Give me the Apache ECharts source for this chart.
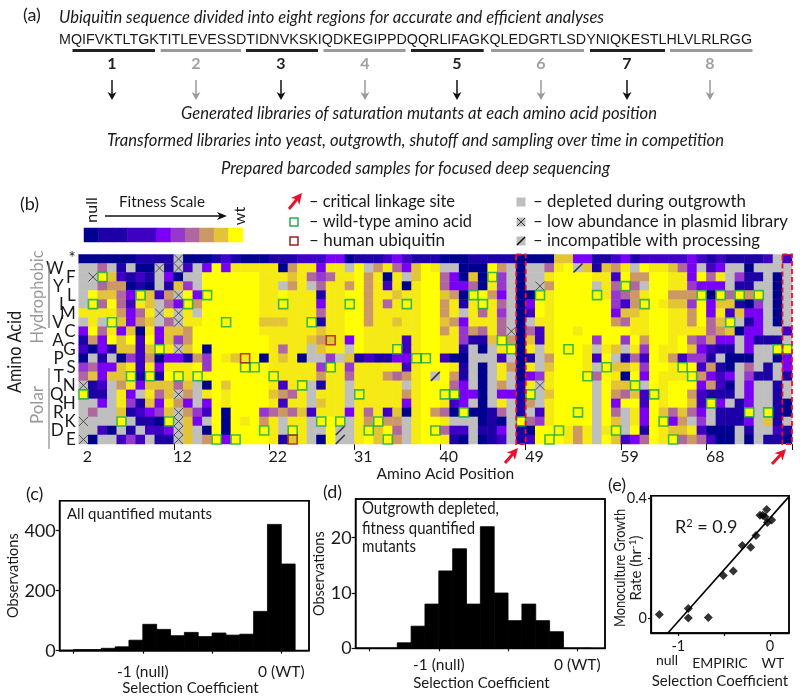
<!DOCTYPE html>
<html><head><meta charset="utf-8">
<style>html,body{margin:0;padding:0;background:#fff}#c{width:800px;height:697px}</style>
<script src="https://cdn.jsdelivr.net/npm/echarts@6/dist/echarts.min.js"></script>
</head><body><div id="c"></div>
<script>
// ---------- data ----------
const aminoAcids = ['*','W','F','Y','L','I','M','V','C','A','G','P','S','T','N','Q','H','R','K','D','E'];
const sequence = 'MQIFVKTLTGKTITLEVESSDTIDNVKSKIQDKEGIPPDQQRLIFAGKQLEDGRTLSDYNIQKESTLHLVLRLRGG';
const positionTicks = ['12','22','31','40','49','59','68'];
const positionLabels = ['2','12','22','31','40','49','59','68'];
const levelColors = ['#00008f','#1d00a6','#4000c4','#7a00f5','#9638cf','#b0669f','#cc9966','#e3c436','#f5ea14','#ffff00'];
const depletedColor = '#bfbfbf';
const colorbarLevels = [0,1,1,2,2,3,4,5,6,7,9];
// fitness level per mutant (0 null .. 9 wt, - depleted); positions 2-21
const rowsLeft = [
'0 0 0 0 0 0 1 1 1 1 - 0 0 0 1 2 1 0 0 0',
'- - 5 - 1 - 0 0 - 1 - 2 - 3 9 3 8 8 8 8',
'- - 9 7 2 1 2 1 - 3 0 - - 9 9 9 9 9 9 8',
'- - 5 6 6 0 1 0 - 1 7 4 - 9 9 9 9 9 9 8',
'- 9 7 7 5 3 9 7 2 6 - 9 3 9 9 9 9 9 9 8',
'- 9 5 9 5 2 8 7 - 5 3 9 6 9 9 9 9 9 9 8',
'8 8 8 8 6 3 5 8 - 8 - 8 - 9 9 9 9 9 9 8',
'- 8 - 9 7 3 6 7 - 5 - 8 8 9 9 9 9 9 9 7',
'3 9 5 8 3 7 0 8 3 7 7 6 9 9 9 9 9 9 9 8',
'1 6 3 9 7 9 2 9 3 7 4 6 9 9 9 9 9 9 9 9',
'2 0 3 1 7 7 2 7 9 8 - 7 9 0 9 9 9 9 9 9',
'0 - 1 - 0 4 2 6 0 3 3 1 6 4 9 8 7 8 9 0',
'4 5 3 3 7 8 2 8 3 8 8 8 9 4 9 9 9 9 9 9',
'5 7 3 7 7 9 1 9 1 9 9 8 9 9 9 9 9 9 9 9',
'- 1 2 - 6 8 3 7 7 7 5 7 - 0 9 7 9 9 9 9',
'9 1 1 - 8 3 - 8 5 7 - 6 - 8 9 8 9 9 9 9',
'- - 3 - 8 4 1 7 3 8 6 3 - 3 9 8 9 9 9 9',
'- 5 - - 7 1 2 3 4 7 - 6 4 2 9 0 9 9 9 4',
'- - - - 9 - 1 1 0 9 - 7 3 - 9 0 9 8 9 6',
'- - 2 0 - 1 - 2 2 3 - 7 - 0 9 0 9 9 9 9',
'- 0 - - 2 4 2 - 1 1 - 7 - 6 9 3 9 9 9 9'];
// positions 22-48
const rowsMid = [
'1 1 1 2 2 2 3 3 0 1 1 1 2 3 2 1 1 1 0 0 0 1 1 1 1 1 0',
'8 0 6 8 8 3 8 8 - 9 - 6 8 5 3 7 9 8 - - 0 0 0 9 6 - 0',
'8 8 7 8 5 4 5 8 8 9 6 8 0 8 - 7 9 9 5 3 0 7 0 9 4 - 0',
'8 - 6 8 - 5 8 8 6 9 6 8 2 8 0 8 9 9 5 3 3 5 0 8 4 - 0',
'8 9 8 8 8 1 8 8 9 9 6 8 8 7 8 8 9 9 7 6 0 9 9 6 3 - 0',
'8 9 8 8 8 3 8 8 9 9 6 8 5 8 9 8 9 9 6 8 1 8 9 8 5 - 0',
'8 8 8 8 8 5 8 8 9 9 6 8 8 8 8 8 9 9 6 8 - 8 5 8 4 - 0',
'7 7 8 8 9 1 8 8 9 9 6 8 8 7 8 8 9 9 7 6 3 8 8 8 5 - 0',
'8 8 8 8 8 7 8 8 9 9 8 8 8 8 8 8 9 9 6 8 4 6 5 8 5 - 0',
'8 8 8 8 7 6 7 8 3 9 8 8 8 8 2 8 9 9 8 8 4 1 1 7 9 6 0',
'8 5 8 8 - 7 8 8 - 9 8 8 8 9 2 8 9 9 8 8 1 - 0 - 8 9 0',
'8 7 8 0 - - 4 - 7 1 2 1 1 3 3 9 9 9 2 0 0 - - - 2 - 0',
'8 8 8 8 8 4 9 8 4 8 8 8 8 8 2 8 9 9 9 8 1 - 0 - 8 6 0',
'9 8 8 8 8 6 8 8 5 8 8 8 6 5 6 8 9 - 9 6 1 - 0 - 8 - 0',
'8 2 8 9 - 1 8 8 - 8 8 8 8 8 - 8 9 9 9 5 3 - 0 - 6 - 1',
'7 6 5 8 - 8 8 8 - 9 8 8 8 8 6 8 9 9 9 9 3 3 0 - 3 3 1',
'8 2 8 8 - 7 8 8 - 8 8 8 8 8 3 8 9 9 8 2 3 - 0 - 8 - 1',
'5 6 5 7 2 8 8 8 3 8 5 8 2 7 0 8 9 6 5 0 9 0 0 1 5 - 1',
'8 - 8 8 - 9 9 9 - 8 6 9 6 6 - 8 9 9 8 - - - 0 1 0 - 9',
'8 - 9 8 - - 9 - - 8 9 7 9 5 - 8 9 9 5 2 2 - 1 1 3 - 1',
'8 1 7 8 - 0 9 - - 8 9 7 9 6 - 8 9 9 8 1 0 - 0 1 2 - 1'];
// positions 49-76
const rowsRight = [
'0 0 0 7 7 3 3 1 1 2 3 1 2 2 2 2 2 3 2 1 2 1 1 1 1 2 - 2',
'- - 5 8 9 - 7 1 7 6 8 - 9 8 8 7 5 3 - 2 3 - - 0 - - - -',
'- - 8 9 9 9 9 8 8 2 9 6 6 9 9 8 8 3 9 5 8 - 4 1 1 - 0 -',
'- - 6 9 9 9 9 - 8 5 9 5 - 9 9 8 8 4 3 3 3 - 1 1 - - 0 -',
'0 9 8 9 9 9 9 9 8 4 5 6 8 9 9 6 6 6 9 0 9 5 9 6 9 - 0 -',
'3 9 8 9 9 9 9 9 9 4 2 6 9 9 8 7 7 4 9 3 7 7 1 0 4 - 0 -',
'2 9 8 9 9 9 9 9 9 3 7 7 8 9 9 8 8 6 9 3 8 2 7 3 3 - 0 -',
'- 8 8 9 9 9 9 9 9 6 5 8 8 9 9 8 8 6 9 5 7 9 - 1 3 - 0 -',
'5 2 8 9 9 8 9 9 9 9 9 8 8 9 9 8 8 8 8 5 6 7 0 3 3 - - 2',
'7 2 8 9 9 9 9 4 9 9 4 9 6 9 9 8 9 5 4 6 3 3 - 3 1 1 1 -',
'8 - 8 9 9 9 8 - 8 7 - 8 4 9 8 8 9 7 3 2 1 1 - 3 - - 9 9',
'1 - 6 9 9 9 8 2 9 - 1 5 2 9 8 6 2 4 4 1 - 0 0 0 - - 0 3',
'8 - 7 9 9 9 8 - 9 7 7 8 4 9 9 8 9 9 2 6 1 0 - 5 - 1 - 3',
'3 4 8 9 9 9 9 5 9 8 0 9 3 9 8 8 8 9 6 3 2 3 - 4 1 1 - 1',
'8 - 8 9 9 9 9 - 9 7 7 9 - 9 8 9 9 9 3 6 2 0 - 3 - - 1 -',
'9 - 7 9 9 9 9 - 9 6 5 7 2 9 8 9 9 6 2 1 1 1 - 3 - - 1 -',
'6 - 8 9 9 9 9 - 9 3 9 9 2 9 8 9 9 7 2 9 3 - 1 3 - - 1 0',
'- 2 8 9 9 9 9 - 9 5 - 8 3 9 7 5 7 5 3 - 1 1 1 9 - 9 1 0',
'5 4 8 9 9 9 9 - 9 7 - 8 3 9 9 3 6 - 4 - 1 1 1 3 - 7 1 -',
'0 9 9 9 8 6 8 - 8 9 - 9 1 9 8 7 7 8 2 0 0 0 - 1 - - 2 1',
'2 9 9 9 8 6 8 - 9 7 2 3 5 9 8 9 5 6 5 2 0 0 - 0 - 1 1 0'];
const humanResidues = [[19,'P'],[24,'E'],[28,'A']];
const lowAbundance = [[3,'F'],[10,'W'],[10,'M'],[2,'N'],[2,'K'],[2,'E'],[47,'C'],[50,'Y'],[50,'N'],
  [12,'*'],[12,'W'],[12,'L'],[12,'M'],[12,'V'],[12,'G'],[12,'Q'],[12,'R'],[12,'K'],[12,'D'],[12,'E']];
const incompatible = [[39,'T'],[29,'D'],[29,'E'],[54,'W']];
const criticalSites = [48,76];

const binStarts = [-1.6,-1.5,-1.4,-1.3,-1.2,-1.1,-1,-0.9,-0.8,-0.7,-0.6,-0.5,-0.4,-0.3,-0.2,-0.1,0];
const allCounts = [2,4,4,8,13,35,88,71,50,61,47,59,52,55,131,421,289];
const depletedCounts = [0,0,0,1,4,8,14,18,8,22,10,5,8,5,3,0,0];
const binWidth = 0.1;
const empiricX = [-1.207,-0.891,-0.891,-0.673,-0.509,-0.4,-0.302,-0.211,-0.153,-0.109,-0.08,-0.036,-0.055,-0.029,0.018];
const growthY = [0.013,0.033,0.001,0.003,0.143,0.158,0.243,0.237,0.276,0.344,0.344,0.363,0.339,0.32,0.328];
const fitX = [-1.116,0.207];
const fitY = [-0.05,0.406];

const regionEdges = [[72.5,155],[160.7,241],[246,318],[323.5,405.6],[411,483.7],[491,584],[590,665],[670,752.5]];
const regionLabelX = [112,196,281,365,457,541,627,710];

// ---------- helpers ----------
const FF = 'Lato, "Open Sans", sans-serif';
const black = '#1a1a1a', grey = '#999999';
const ctx = document.createElement('canvas').getContext('2d');
function T(text,x,y,o={}){
  const size=o.size||15, font=(o.italic?'italic ':'')+(o.bold?'bold ':'')+size+'px '+(o.ff||FF);
  ctx.font=font;
  const sx=o.w?o.w/ctx.measureText(text).width:1;
  return {type:'text',x,y,scaleX:sx,rotation:o.rot||0,silent:true,z:20,
    style:{text,font,fill:o.fill||black,textAlign:o.align||'left',textVerticalAlign:'middle'}};
}
function L(x1,y1,x2,y2,stroke,lw){return {type:'line',silent:true,z:20,shape:{x1,y1,x2,y2},style:{stroke,lineWidth:lw}};}
function head(x1,y1,x2,y2,fill,len,wid){
  const a=Math.atan2(y2-y1,x2-x1),c=Math.cos(a),s=Math.sin(a);
  const bx=x2-len*c,by=y2-len*s;
  return {type:'polygon',silent:true,z:20,shape:{points:[[x2,y2],[bx-wid*s,by+wid*c],[x2-len*.72*c,y2-len*.72*s],[bx+wid*s,by-wid*c]]},style:{fill}};
}
function arrow(x1,y1,x2,y2,col,lw,len,wid){
  const a=Math.atan2(y2-y1,x2-x1);
  return [L(x1,y1,x2-len*.6*Math.cos(a),y2-len*.6*Math.sin(a),col,lw),head(x1,y1,x2,y2,col,len,wid)];
}
const parseRow=(s,start,r,out)=>s.split(' ').forEach((v,i)=>out.push([start+i,r,v==='-'?-1:+v]));
const cells=[];
aminoAcids.forEach((a,r)=>{parseRow(rowsLeft[r],0,r,cells);parseRow(rowsMid[r],20,r,cells);parseRow(rowsRight[r],47,r,cells);});
const positions=Array.from({length:75},(_,i)=>String(i+2));
const toCell=([p,a])=>[p-2,aminoAcids.indexOf(a)];
const wildType=positions.map((p,i)=>[i,aminoAcids.indexOf(sequence[+p-1])]);
const xPath='path://M0 0L10 10M10 0L0 10', slashPath='path://M0 10L10 0';

// ---------- graphics (schematic + annotations) ----------
const g=[];
g.push(T('(a)',23,15,{size:18}));
g.push(T('Ubiquitin sequence divided into eight regions for accurate and efficient analyses',59,18,{size:17,italic:true,w:545}));
g.push(T(sequence,59,40,{size:14,ff:'"Liberation Sans"',w:693}));
regionEdges.forEach((e,i)=>{
  const col=i%2?'#9a9a9a':'#222';
  g.push(L(e[0],50.5,e[1],50.5,col,3));
  g.push(T(String(i+1),regionLabelX[i],63.5,{size:16,bold:true,align:'center',fill:i%2?'#a0a0a0':'#222'}));
  g.push(...arrow(regionLabelX[i],80,regionLabelX[i],100,i%2?'#9a9a9a':'#111',1.5,8,4.5));
});
g.push(T('Generated libraries of saturation mutants at each amino acid position',181,114,{size:17,italic:true,w:476}));
g.push(T('Transformed libraries into yeast, outgrowth, shutoff and sampling over time in competition',107,141,{size:17,italic:true,w:617}));
g.push(T('Prepared barcoded samples for focused deep sequencing',221,169,{size:17,italic:true,w:389}));
g.push(T('(b)',20,204,{size:18}));
g.push(T('Fitness Scale',162,202,{size:16,align:'center',w:86}));
g.push(T('null',92,210,{size:16,align:'center',rot:Math.PI/2}));
g.push(T('wt',240,216,{size:16,align:'center',rot:Math.PI/2}));
g.push(...arrow(105,216,227,216,'#111',1.3,10,4));
// legend
g.push(...arrow(289,209,302,193,'#e8112d',3,11,5.5));
g.push({type:'rect',silent:true,z:20,shape:{x:290,y:218,width:8,height:8},style:{fill:'#fff',stroke:'#22b14c',lineWidth:1.5}});
g.push({type:'rect',silent:true,z:20,shape:{x:290,y:237,width:8,height:8},style:{fill:'#fff',stroke:'#a01c1c',lineWidth:1.5}});
g.push(T('– critical linkage site',309,202,{size:17,w:146}));
g.push(T('– wild-type amino acid',309,222,{size:17,w:163}));
g.push(T('– human ubiquitin',309,241,{size:17,w:136}));
[202,222,241].forEach(y=>g.push({type:'rect',silent:true,z:20,shape:{x:516.5,y:y-4.5,width:9,height:9},style:{fill:depletedColor}}));
g.push(L(517,218,525,226,'#333',1),L(525,218,517,226,'#333',1));
g.push(L(517,245,525,237,'#111',1.6));
g.push(T('– depleted during outgrowth',533,202,{size:17,w:213}));
g.push(T('– low abundance in plasmid library',533,222,{size:17,w:255}));
g.push(T('– incompatible with processing',533,241,{size:17,w:227}));
// heatmap side labels
g.push(T('Amino Acid',15,352,{size:19,align:'center',rot:Math.PI/2,w:82}));
g.push(T('Hydrophobic',37,297,{size:18,align:'center',rot:Math.PI/2,fill:grey,w:93}));
g.push(T('Polar',37,405,{size:18,align:'center',rot:Math.PI/2,fill:grey,w:38}));
g.push(L(49,263,49,328,'#777',1.2),L(49,368,49,449,'#888',1.2));
g.push(...arrow(505,463,518,448,'#e8112d',3,11,5.5));
g.push(...arrow(772,464,786,449,'#e8112d',3,11,5.5));
// panels
[[59.7,500.7,249.3,150],[355.7,499,249.3,149.3],[651,495.7,138,137.3]].forEach(f=>
  g.push({type:'rect',silent:true,z:19,shape:{x:f[0],y:f[1],width:f[2],height:f[3]},style:{fill:'none',stroke:'#000',lineWidth:1.6}}));
g.push(T('(c)',26,494,{size:18}));
g.push(T('All quantified mutants',67,514,{size:16,w:145}));
g.push(T('(d)',323,492,{size:18}));
g.push(T('Outgrowth depleted,',362,509,{size:16.5,w:137}));
g.push(T('fitness quantified',362,529,{size:16.5,w:113}));
g.push(T('mutants',362,547,{size:16.5,w:54}));
g.push(T('(e)',608,485,{size:18}));
g.push({type:'text',silent:true,z:20,x:675,y:527,style:{text:'{a|R}{s|2}{a| = 0.9}',textVerticalAlign:'middle',
  rich:{a:{font:'18px '+FF,fill:black},s:{font:'11px '+FF,fill:black,padding:[0,0,8,0]}}}});
g.push(T('Monoculture Growth',620,568,{size:15,align:'center',rot:Math.PI/2,w:118}));
g.push({type:'text',silent:true,z:20,x:636,y:568,rotation:Math.PI/2,style:{text:'{a|Rate (hr}{s|-1}{a|)}',textAlign:'center',textVerticalAlign:'middle',
  rich:{a:{font:'15px '+FF,fill:black},s:{font:'10px '+FF,fill:black,padding:[0,0,7,0]}}}});
g.push(T('null',667,660,{size:14,align:'center'}));
g.push(T('EMPIRIC',720,663,{size:14,align:'center'}));
g.push(T('WT',773,663,{size:14,align:'center'}));

// ---------- histograms ----------
function histSeries(idx,counts){
  return {type:'custom',xAxisIndex:idx,yAxisIndex:idx,silent:true,
    data:binStarts.map((b,i)=>[b,b+binWidth,counts[i]]),encode:{x:[0,1],y:2},
    renderItem:(p,api)=>{
      const a=api.coord([api.value(0),api.value(2)]),b=api.coord([api.value(1),0]);
      return {type:'rect',shape:{x:a[0],y:a[1],width:b[0]-a[0],height:b[1]-a[1]},style:{fill:'#000',stroke:'#000',lineWidth:0.8}};
    }};
}
const axLine={show:true,onZero:false,lineStyle:{color:'#111',width:1.3}};
const axTick=(len,vals)=>({show:true,length:len,customValues:vals,lineStyle:{color:'#111',width:1.2}});
function histX(i,pad,margin,gap){return {type:'value',gridIndex:i,min:-1.6,max:0.2,splitLine:{show:false},axisLine:axLine,
  axisTick:axTick(3,[-1.5,-1,-0.5,0]),
  axisLabel:{customValues:[-1,0],margin,color:black,fontFamily:FF,fontSize:15.5,formatter:v=>v===0?'0 (WT)':'-1 (null)'},
  name:'Selection Coefficient',nameLocation:'middle',nameGap:gap,nameTextStyle:{color:black,fontFamily:FF,fontSize:15,padding:[0,0,0,pad]}};}
function histY(i,max,vals,gap){return {type:'value',gridIndex:i,min:0,max,splitLine:{show:false},axisLine:axLine,
  axisTick:axTick(4,vals),axisLabel:{customValues:vals,margin:4,color:black,fontFamily:FF,fontSize:18},
  name:'Observations',nameLocation:'middle',nameGap:gap,nameTextStyle:{color:black,fontFamily:FF,fontSize:14.5}};}

const frame={show:true,borderColor:'#111',borderWidth:1.3,backgroundColor:'transparent'};
const option={
  animation:false,backgroundColor:'#fff',
  grid:[
    {left:78.7,top:254.5,width:713.3,height:189.5},
    {left:84,top:228,width:159,height:14},
    Object.assign({left:59.7,top:500.7,width:249.3,height:150},frame),
    Object.assign({left:355.7,top:499,width:249.3,height:149.3},frame),
    Object.assign({left:651,top:495.7,width:138,height:137.3},frame)
  ],
  xAxis:[
    {type:'category',gridIndex:0,data:positions,axisLine:{show:false},
      axisTick:{show:true,length:6,interval:(i,v)=>positionTicks.includes(v),lineStyle:{color:'#111',width:1}},
      axisLabel:{interval:(i,v)=>positionLabels.includes(v),margin:5,padding:[0,0,0,8],color:black,fontFamily:FF,fontSize:16,hideOverlap:false},
      name:'Amino Acid Position',nameLocation:'middle',nameGap:21,nameTextStyle:{color:black,fontFamily:FF,fontSize:15.5,padding:[0,0,0,20]}},
    {type:'category',gridIndex:1,show:false,data:colorbarLevels.map((_,i)=>i)},
    histX(2,12,13,28),histX(3,2,9,27),
    {type:'value',gridIndex:4,min:-1.298,max:0.207,splitLine:{show:false},axisLine:axLine,axisTick:axTick(3,[-1,-0.5,0]),
      axisLabel:{customValues:[-1,0],margin:6,color:black,fontFamily:FF,fontSize:14.5},
      name:'Selection Coefficient',nameLocation:'middle',nameGap:41,nameTextStyle:{color:black,fontFamily:FF,fontSize:15}}
  ],
  yAxis:[
    {type:'category',gridIndex:0,inverse:true,data:aminoAcids,axisLine:{show:false},axisTick:{show:false},
      axisLabel:{interval:0,margin:3,color:black,fontFamily:FF,fontSize:17,
        formatter:(v)=>aminoAcids.indexOf(v)%2?'{l|'+v+'}':'{r|'+v+'}',
        rich:{l:{fontFamily:FF,fontSize:17,color:black,padding:[0,12,0,0]},r:{fontFamily:FF,fontSize:17,color:black}}}},
    {type:'category',gridIndex:1,show:false,data:['fitness']},
    histY(2,500,[0,200,400],26),histY(3,27,[0,10,20],14),
    {type:'value',gridIndex:4,min:-0.049,max:0.409,splitLine:{show:false},axisLine:axLine,axisTick:axTick(3,[0,0.2,0.4]),
      axisLabel:{customValues:[0,0.4],margin:4,color:black,fontFamily:FF,fontSize:14.5}}
  ],
  visualMap:{type:'piecewise',show:false,seriesIndex:[0,1],dimension:2,
    pieces:[{value:-1,color:depletedColor}].concat(levelColors.map((c,i)=>({value:i,color:c})))},
  series:[
    {type:'heatmap',xAxisIndex:0,yAxisIndex:0,data:cells,silent:true,progressive:0},
    {type:'heatmap',xAxisIndex:1,yAxisIndex:1,data:colorbarLevels.map((v,i)=>[i,0,v]),silent:true},
    {type:'scatter',xAxisIndex:0,yAxisIndex:0,data:lowAbundance.map(toCell),silent:true,z:5,symbol:xPath,symbolSize:9,
      itemStyle:{color:'none',borderColor:'#333',borderWidth:1}},
    {type:'scatter',xAxisIndex:0,yAxisIndex:0,data:incompatible.map(toCell),silent:true,z:5,symbol:slashPath,symbolSize:9,
      itemStyle:{color:'none',borderColor:'#111',borderWidth:1.6}},
    {type:'scatter',xAxisIndex:0,yAxisIndex:0,data:wildType,silent:true,z:6,symbol:'rect',symbolSize:9,
      itemStyle:{color:'transparent',borderColor:'#12a84e',borderWidth:1.6}},
    {type:'scatter',xAxisIndex:0,yAxisIndex:0,data:humanResidues.map(toCell),silent:true,z:7,symbol:'rect',symbolSize:9,
      itemStyle:{color:'transparent',borderColor:'#a01c1c',borderWidth:1.6}},
    {type:'custom',xAxisIndex:0,yAxisIndex:0,silent:true,z:8,clip:false,data:criticalSites.map(p=>[p-2,0]),encode:{x:0,y:1},
      renderItem:(p,api)=>{
        const c=api.coord([api.value(0),0]),s=api.size([1,1]);
        return {type:'rect',shape:{x:c[0]-s[0]/2,y:c[1]-s[1]/2,width:s[0],height:s[1]*aminoAcids.length},
          style:{fill:'none',stroke:'#e8112d',lineWidth:1.8,lineDash:[5,3]}};
      }},
    histSeries(2,allCounts),histSeries(3,depletedCounts),
    {type:'scatter',xAxisIndex:4,yAxisIndex:4,silent:true,symbol:'diamond',symbolSize:9,
      itemStyle:{color:'#000'},data:empiricX.map((x,i)=>[x,growthY[i]])},
    {type:'line',xAxisIndex:4,yAxisIndex:4,silent:true,symbol:'none',lineStyle:{color:'#000',width:1.6},
      data:fitX.map((x,i)=>[x,fitY[i]])}
  ],
  graphic:g
};
echarts.init(document.getElementById('c'),null,{renderer:'canvas'}).setOption(option);
</script></body></html>
